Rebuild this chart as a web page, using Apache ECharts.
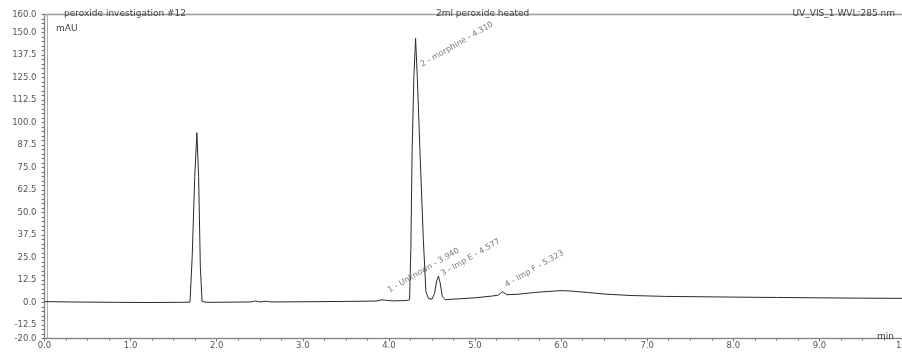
<!DOCTYPE html>
<html>
<head>
<meta charset="utf-8">
<script src="https://cdn.jsdelivr.net/npm/echarts@6/dist/echarts.min.js"></script>
<style>
  html, body { margin: 0; padding: 0; background: #fff; }
  #main { width: 902px; height: 352px; }
</style>
</head>
<body>
<div id="main"></div>
<script>
// chromatogram trace: retention time (min) / absorbance (mAU)
var times = [0.0, 0.3, 0.8, 1.2, 1.6, 1.69, 1.715, 1.745, 1.77, 1.79, 1.81, 1.83, 1.9,
  2.2, 2.4, 2.45, 2.5, 2.58, 2.63, 3.0, 3.5, 3.85, 3.92, 3.94, 3.97, 4.05, 4.2,
  4.24, 4.255, 4.27, 4.29, 4.31, 4.33, 4.36, 4.40, 4.43, 4.46, 4.50,
  4.53, 4.555, 4.575, 4.595, 4.62, 4.65, 4.8, 5.0, 5.2, 5.27, 5.32, 5.37,
  5.5, 5.7, 5.9, 6.0, 6.1, 6.3, 6.5, 6.8, 7.2, 7.6, 8.0, 8.5, 9.0, 9.5, 10.0];
var signal = [0.5, 0.3, 0.1, 0.0, 0.1, 0.2, 25, 70, 94.3, 70, 20, 0.5, 0.1,
  0.2, 0.3, 0.9, 0.3, 0.7, 0.3, 0.4, 0.6, 0.8, 1.5, 2.2, 1.2, 0.9, 1.1,
  1.5, 30, 85, 125, 146.8, 125, 85, 35, 6, 2.2, 1.8,
  5, 12, 14.7, 11, 3.5, 1.6, 2.0, 2.6, 3.6, 4.1, 6.0, 4.3,
  4.6, 5.6, 6.3, 6.6, 6.4, 5.6, 4.7, 3.9, 3.4, 3.2, 3.0, 2.8, 2.6, 2.4, 2.3];

// integrated peaks
var peakNames = ['1 - Unknown - 3.940', '2 - morphine - 4.310', '3 - Imp E - 4.577', '4 - Imp F - 5.323'];
var peakTimes = [3.940, 4.310, 4.577, 5.323];
var peakHeights = [2.2, 146.8, 14.7, 6.0];

// axis ranges
var xMin = 0, xMax = 10, xStep = 1;
var yMin = -20, yMax = 160, yStep = 2.5, yLabelStep = 12.5;

var chart = echarts.init(document.getElementById('main'));
var font = 'DejaVu Sans';
var head = { fontFamily: font, fontSize: 9, fontWeight: 'normal', color: '#444' };

var trace = times.map(function (t, i) { return [t, signal[i]]; });
// label offsets (in the rotated frame) so the text starts beside each peak
var offsets = [[8, -4.5], [-8.5, 26], [3.5, 0], [5.5, -4]];
var peaks = peakTimes.map(function (t, i) {
  return {
    value: [t, peakHeights[i]],
    name: peakNames[i],
    label: { offset: offsets[i] }
  };
});

var option = {
  animation: false,
  title: [
    { text: 'peroxide investigation #12', left: 59, top: 4, textStyle: head },
    { text: '2ml peroxide heated', left: 431, top: 4, textStyle: head },
    { text: 'UV_VIS_1 WVL:285 nm', right: 2, top: 4, textStyle: head },
    { text: 'mAU', left: 51, top: 19, textStyle: head },
    { text: 'min', right: 3, top: 327, textStyle: head }
  ],
  grid: {
    left: 44.5, top: 14.5, right: -3.5, bottom: 13.5,
    containLabel: false, outerBoundsMode: 'none',
    show: true, borderColor: '#9a9a9a', borderWidth: 1.5
  },
  xAxis: {
    type: 'value', min: xMin, max: xMax, interval: xStep,
    axisLine: { show: true, onZero: false, lineStyle: { color: '#888' } },
    axisTick: { show: true, length: 3, lineStyle: { color: '#777' } },
    minorTick: { show: true, splitNumber: 4, length: 2, lineStyle: { color: '#777' } },
    splitLine: { show: false },
    axisLabel: {
      margin: 3, fontFamily: font, fontSize: 8.5, color: '#555',
      formatter: function (v) { return v.toFixed(1); }
    }
  },
  yAxis: [{
    type: 'value', min: yMin, max: yMax, interval: yStep,
    axisLine: { show: true, lineStyle: { color: '#888' } },
    axisTick: { show: true, length: 3, lineStyle: { color: '#777' } },
    splitLine: { show: false },
    axisLabel: {
      margin: 8, fontFamily: font, fontSize: 8.5, color: '#555',
      formatter: function (v) {
        if (v === yMin || v === yMax || Math.abs(v / yLabelStep - Math.round(v / yLabelStep)) < 1e-6) {
          return v.toFixed(1);
        }
        return '';
      }
    }
  }, {
    type: 'value', min: yMin, max: yMax, position: 'left', offset: -2.5,
    axisLine: { show: true, lineStyle: { color: '#aaa' } },
    axisTick: { show: false }, axisLabel: { show: false }, splitLine: { show: false }
  }],
  series: [{
    type: 'line',
    data: trace,
    showSymbol: false,
    lineStyle: { color: '#2a2a2a', width: 1 }
  }, {
    type: 'scatter',
    data: peaks,
    symbolSize: 0,
    label: {
      show: true, position: 'right', distance: 0, rotate: 30,
      formatter: '{b}', fontFamily: font, fontSize: 8, color: '#555'
    }
  }]
};
chart.setOption(option);
</script>
</body>
</html>
